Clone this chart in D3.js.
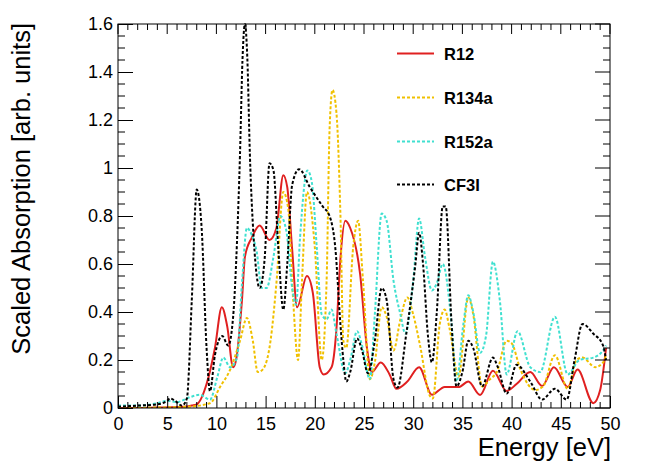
<!DOCTYPE html>
<html>
<head>
<meta charset="utf-8">
<script src="https://cdn.jsdelivr.net/npm/d3@7"></script>
<style>
  html, body { margin: 0; padding: 0; background: #fff; }
  svg { display: block; font-family: "Liberation Sans", Arial, Helvetica, sans-serif; }
</style>
</head>
<body>
<svg id="chart" width="650" height="469"></svg>
<script>
// ---------- data ----------
const seriesNames = ["R12", "R134a", "R152a", "CF3I"];
const seriesColors = ["#e02020", "#f0c000", "#40e0d0", "#000000"];

const r12Energy = [0,2,4,6,7,7.5,8,9,9.85,10.55,11.1,11.7,12,12.6,12.9,13.6,14.4,15.4,16.1,16.8,17.2,17.7,18.2,19.2,19.8,20.5,20.9,21.7,22.2,22.6,23.1,23.6,24.6,25.3,25.8,26.7,27.6,28.3,29.4,30.6,31.9,33.2,34.6,35.6,36.8,38.1,39.5,40.5,41.9,43.1,44.3,45.7,46.7,48.3,49,49.6];
const r12Values = [0,0,0.002,0.004,0.006,0.01,0.015,0.1,0.25,0.42,0.34,0.17,0.2,0.45,0.63,0.71,0.76,0.70,0.75,0.97,0.92,0.66,0.42,0.55,0.48,0.17,0.14,0.17,0.33,0.62,0.78,0.75,0.56,0.25,0.15,0.19,0.14,0.08,0.11,0.17,0.055,0.088,0.087,0.11,0.054,0.155,0.071,0.1,0.15,0.092,0.17,0.088,0.16,0.02,0.075,0.25];

const r134aEnergy = [0,4,7,9.35,10.4,11.4,12.4,13.1,13.7,14.2,14.7,15.5,16.1,16.8,17.3,17.8,18.3,18.7,19.2,20.0,20.7,21.2,21.5,21.8,22.2,22.6,22.9,23.2,23.9,24.4,24.9,25.6,26.1,26.8,27.3,28.0,28.7,29.4,30.0,30.7,31.7,32.0,32.7,33.2,33.7,34.6,35.6,36.1,37.0,37.8,38.5,39.5,40.0,40.9,42.4,43.2,44.4,45.7,46.6,47.2,48.5,49.3,49.6];
const r134aValues = [0,0.002,0.005,0.02,0.09,0.16,0.28,0.375,0.28,0.15,0.16,0.28,0.52,0.9,0.83,0.45,0.2,0.53,0.9,0.67,0.2,0.53,1.16,1.325,1.23,0.81,0.28,0.25,0.67,0.78,0.53,0.12,0.19,0.42,0.38,0.24,0.37,0.46,0.39,0.26,0.05,0.04,0.35,0.41,0.33,0.13,0.46,0.39,0.09,0.12,0.15,0.28,0.27,0.16,0.075,0.09,0.22,0.08,0.2,0.21,0.17,0.19,0.22];

const r152aEnergy = [0,2,4,5,6,7.3,8.3,9.35,10.1,10.7,11.4,12.1,12.6,13.1,13.6,14.1,14.6,15.1,15.8,16.5,17.1,17.7,18.1,18.5,19.25,19.7,20.2,20.7,21.2,21.7,22.2,23.1,23.6,24.3,24.8,25.6,26.1,26.8,27.3,28.0,28.7,29.2,30.0,30.6,31.2,31.9,32.4,33.0,33.9,34.4,35.1,35.6,36.1,36.8,37.4,38.1,38.8,39.5,40.6,41.9,42.9,44.4,45.7,46.9,48.3,49.3,49.6];
const r152aValues = [0.01,0.01,0.02,0.03,0.025,0.045,0.055,0.035,0.13,0.21,0.17,0.21,0.52,0.75,0.72,0.65,0.5,0.5,0.63,0.8,0.74,0.5,0.43,0.71,0.99,0.94,0.67,0.39,0.37,0.41,0.31,0.145,0.2,0.32,0.26,0.12,0.39,0.81,0.78,0.53,0.39,0.31,0.53,0.79,0.63,0.49,0.52,0.6,0.35,0.11,0.35,0.47,0.4,0.23,0.3,0.61,0.45,0.14,0.32,0.17,0.15,0.38,0.14,0.2,0.21,0.24,0.26];

const cf3iEnergy = [0,2,4,5,5.3,5.8,6.5,7.0,7.5,8.0,8.5,9.0,9.35,9.85,10.6,11.2,11.7,12.1,12.4,12.65,12.9,13.15,13.4,13.8,14.4,14.9,15.4,15.8,16.3,16.8,17.2,17.7,18.4,19.5,20.8,21.5,22.1,22.6,22.9,23.2,23.6,24.3,24.8,25.4,26.1,26.8,27.3,28.0,28.4,29.3,30.2,30.6,31.0,31.5,31.9,32.4,33.0,33.3,33.9,34.4,35.0,35.6,36.1,37.0,38.1,38.6,39.5,40.5,41.9,43.1,44.4,45.6,46.4,47.2,48.3,49.3,49.6];
const cf3iValues = [0.005,0.01,0.015,0.03,0.04,0.03,0.01,0.04,0.45,0.91,0.75,0.25,0.07,0.22,0.3,0.26,0.38,0.7,1.06,1.45,1.6,1.45,1.06,0.7,0.5,0.62,1.02,0.99,0.66,0.41,0.6,0.93,0.995,0.92,0.84,0.8,0.66,0.35,0.2,0.11,0.15,0.29,0.24,0.145,0.28,0.5,0.45,0.12,0.085,0.31,0.59,0.73,0.6,0.3,0.19,0.4,0.84,0.84,0.35,0.09,0.15,0.28,0.25,0.09,0.21,0.17,0.06,0.18,0.11,0.035,0.08,0.035,0.2,0.35,0.31,0.26,0.2];

const xTicks = [0,5,10,15,20,25,30,35,40,45,50];
const yTicks = [0,0.2,0.4,0.6,0.8,1,1.2,1.4,1.6];
const xTitle = "Energy [eV]";
const yTitle = "Scaled Absorption [arb. units]";

// ---------- layout ----------
const L = 118, R = 610, T = 24, B = 408;
const svg = d3.select("#chart");
const x = d3.scaleLinear().domain([0, 50]).range([L, R]);
const y = d3.scaleLinear().domain([0, 1.6]).range([B, T]);

const series = [
  {E: r12Energy, V: r12Values, dash: null},
  {E: r134aEnergy, V: r134aValues, dash: "3,2"},
  {E: r152aEnergy, V: r152aValues, dash: "3,2"},
  {E: cf3iEnergy, V: cf3iValues, dash: "3,2"}
];

svg.append("clipPath").attr("id", "clip")
  .append("rect").attr("x", L).attr("y", T - 1).attr("width", R - L).attr("height", B - T + 1);

const line = d3.line().x(d => x(d[0])).y(d => y(d[1])).curve(d3.curveMonotoneX);
const g = svg.append("g").attr("clip-path", "url(#clip)");
series.forEach((s, i) => {
  const pts = s.E.map((e, k) => [e, s.V[k]]);
  g.append("path").datum(pts)
    .attr("d", line)
    .attr("fill", "none")
    .attr("stroke", seriesColors[i])
    .attr("stroke-width", 2)
    .attr("stroke-dasharray", s.dash);
});

// ---------- axes (ROOT style: ticks inward on all sides) ----------
const axisColor = "#000";
const fmt = d => String(d);
const xAxisB = d3.axisBottom(x).tickValues(xTicks).tickSize(-12).tickFormat(fmt);
svg.append("g").attr("transform", `translate(0,${B})`).call(xAxisB)
  .call(a => a.select(".domain").remove())
  .call(a => a.selectAll("text").attr("font-size", 18).attr("dy", "0").attr("y", 22).attr("fill", "#000"));
const minorX = d3.range(0, 50.01, 1).filter(v => v % 5 !== 0);
svg.append("g").selectAll("line").data(minorX).join("line")
  .attr("x1", d => x(d)).attr("x2", d => x(d)).attr("y1", B).attr("y2", B - 6)
  .attr("stroke", axisColor).attr("stroke-width", 1);
svg.append("g").selectAll("line").data(xTicks).join("line")
  .attr("x1", d => x(d)).attr("x2", d => x(d)).attr("y1", T).attr("y2", T + 10)
  .attr("stroke", axisColor).attr("stroke-width", 1);
svg.append("g").selectAll("line").data(minorX).join("line")
  .attr("x1", d => x(d)).attr("x2", d => x(d)).attr("y1", T).attr("y2", T + 6)
  .attr("stroke", axisColor).attr("stroke-width", 1);
const yAxisL = d3.axisLeft(y).tickValues(yTicks).tickSize(-15).tickFormat(fmt);
svg.append("g").attr("transform", `translate(${L},0)`).call(yAxisL)
  .call(a => a.select(".domain").remove())
  .call(a => a.selectAll("text").attr("font-size", 18).attr("x", -5).attr("fill", "#000"));
const minorY = d3.range(0, 1.601, 0.05).filter(v => Math.abs(v / 0.2 - Math.round(v / 0.2)) > 1e-6);
svg.append("g").selectAll("line").data(minorY).join("line")
  .attr("x1", L).attr("x2", L + 7).attr("y1", d => y(d)).attr("y2", d => y(d))
  .attr("stroke", axisColor).attr("stroke-width", 1);
svg.append("g").selectAll("line").data(yTicks).join("line")
  .attr("x1", R).attr("x2", R - 15).attr("y1", d => y(d)).attr("y2", d => y(d))
  .attr("stroke", axisColor).attr("stroke-width", 1);
svg.append("g").selectAll("line").data(minorY).join("line")
  .attr("x1", R).attr("x2", R - 7).attr("y1", d => y(d)).attr("y2", d => y(d))
  .attr("stroke", axisColor).attr("stroke-width", 1);
svg.append("rect").attr("x", L).attr("y", T).attr("width", R - L).attr("height", B - T)
  .attr("fill", "none").attr("stroke", axisColor).attr("stroke-width", 1);

// ---------- titles ----------
svg.append("text").attr("x", R + 1).attr("y", 456).attr("text-anchor", "end")
  .attr("font-size", 25.5).attr("fill", "#000").text(xTitle);
svg.append("text").attr("transform", `translate(30,${T - 1}) rotate(-90)`)
  .attr("text-anchor", "end").attr("font-size", 25.5).attr("fill", "#000").text(yTitle);

// ---------- legend ----------
const legY = [53.5, 97.5, 141.5, 184.5];
const leg = svg.append("g");
seriesNames.forEach((name, i) => {
  leg.append("line").attr("x1", 397).attr("x2", 434).attr("y1", legY[i]).attr("y2", legY[i])
    .attr("stroke", seriesColors[i]).attr("stroke-width", 2)
    .attr("stroke-dasharray", series[i].dash);
  leg.append("text").attr("x", 444).attr("y", legY[i] + 6).attr("font-size", 16.5)
    .attr("font-weight", "bold").attr("fill", "#000").text(name);
});
</script>
</body>
</html>
